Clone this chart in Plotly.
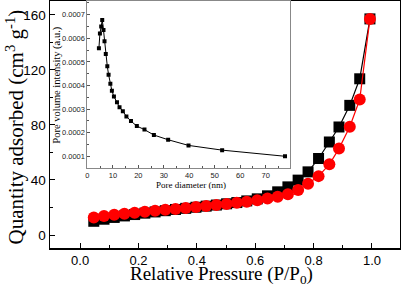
import plotly.graph_objects as go

# Main isotherm data
pressure = [0.047, 0.082, 0.117, 0.152, 0.187, 0.222, 0.257, 0.292, 0.327, 0.362,
            0.397, 0.432, 0.467, 0.502, 0.537, 0.571, 0.607, 0.642, 0.677, 0.712,
            0.747, 0.781, 0.817, 0.854, 0.887, 0.924, 0.958, 0.993]
adsorption = [10.0, 11.5, 12.8, 13.9, 14.9, 15.9, 16.8, 17.7, 18.6, 19.4,
              20.2, 21.0, 21.8, 22.7, 23.6, 24.8, 26.3, 28.5, 31.4, 35.0,
              39.9, 45.9, 55.6, 67.6, 78.5, 94.2, 113.5, 157.0]
desorption = [12.8, 13.8, 14.7, 15.5, 16.2, 16.9, 17.6, 18.3, 19.0, 19.7,
              20.4, 21.1, 21.8, 22.6, 23.4, 24.2, 25.3, 26.5, 27.8, 29.7,
              32.8, 37.2, 42.8, 51.4, 62.8, 78.7, 98.4, 157.0]

# Inset pore size distribution
pore_d = [4.5, 4.9, 5.4, 5.8, 6.3, 6.7, 7.2, 7.8, 8.3, 9.0, 9.6, 10.4, 11.6, 12.6,
          13.9, 15.3, 17.1, 19.4, 22.4, 26.1, 31.7, 39.7, 52.9, 77.6]
pore_v = [0.000558, 0.000620, 0.000650, 0.000678, 0.000635, 0.000587, 0.000533,
          0.000481, 0.000446, 0.000407, 0.000378, 0.000353, 0.000329, 0.000308,
          0.000291, 0.000269, 0.000249, 0.000228, 0.000213, 0.000190, 0.000170,
          0.000146, 0.000126, 0.000100]

x_ticks = [0.0, 0.2, 0.4, 0.6, 0.8, 1.0]
x_ticklabels = ["0.0", "0.2", "0.4", "0.6", "0.8", "1.0"]
y_ticks = [0, 40, 80, 120, 160]
inset_x_ticks = [0, 10, 20, 30, 40, 50, 60, 70, 80]
inset_y_ticks = [0.0001, 0.0002, 0.0003, 0.0004, 0.0005, 0.0006, 0.0007]
inset_y_labels = ["0.0001", "0.0002", "0.0003", "0.0004", "0.0005", "0.0006", "0.0007"]

SANS = "Liberation Sans, Arial, sans-serif"
SERIF = "Liberation Serif, Times New Roman, serif"

fig = go.Figure()
fig.add_trace(go.Scatter(x=pressure, y=adsorption, mode="lines+markers",
                         line=dict(color="black", width=1.2),
                         marker=dict(symbol="square", size=11, color="black"),
                         showlegend=False))
fig.add_trace(go.Scatter(x=pressure, y=desorption, mode="lines+markers",
                         line=dict(color="red", width=1.2),
                         marker=dict(symbol="circle", size=12, color="red"),
                         showlegend=False))
fig.add_trace(go.Scatter(x=pore_d, y=pore_v, mode="lines+markers",
                         xaxis="x2", yaxis="y2",
                         line=dict(color="black", width=1),
                         marker=dict(symbol="square", size=4, color="black"),
                         showlegend=False))

fig.update_layout(
    width=401, height=286,
    margin=dict(l=50, r=1, t=1, b=38),
    paper_bgcolor="white", plot_bgcolor="white",
    hovermode=False,
    xaxis=dict(range=[-0.103, 1.096], tickvals=x_ticks, ticktext=x_ticklabels,
               ticks="inside", ticklen=5, tickwidth=1, tickcolor="black",
               minor=dict(dtick=0.1, ticks="inside", ticklen=3, tickcolor="black"),
               showline=True, linecolor="black", linewidth=1.5, mirror=True,
               showgrid=False, zeroline=False, automargin=False,
               tickfont=dict(family=SANS, size=13, color="black")),
    yaxis=dict(range=[-9.4, 170.0], tickvals=y_ticks,
               ticks="inside", ticklen=5, tickwidth=1, tickcolor="black",
               minor=dict(dtick=20, ticks="inside", ticklen=3, tickcolor="black"),
               showline=True, linecolor="black", linewidth=1.5, mirror=True,
               showgrid=False, zeroline=False, automargin=False,
               tickfont=dict(family=SANS, size=13.5, color="black")),
    xaxis2=dict(domain=[0.107, 0.686], anchor="y2", range=[0, 79.6],
                tickvals=inset_x_ticks, ticks="inside", ticklen=3, tickcolor="#555",
                minor=dict(dtick=5, ticks="inside", ticklen=2, tickcolor="#555"),
                showline=True, linecolor="#888", linewidth=1, mirror=True,
                showgrid=False, zeroline=False,
                tickfont=dict(family=SANS, size=7.5, color="#222")),
    yaxis2=dict(domain=[0.323, 1.0], anchor="x2", range=[0.0000494, 0.000758],
                tickvals=inset_y_ticks, ticktext=inset_y_labels,
                ticks="inside", ticklen=3, tickcolor="#555",
                minor=dict(dtick=0.00005, ticks="inside", ticklen=2, tickcolor="#555"),
                showline=True, linecolor="#888", linewidth=1, mirror=True,
                showgrid=False, zeroline=False,
                tickfont=dict(family=SANS, size=7.5, color="#222")),
)

fig.add_annotation(text="Relative Pressure (P/P<sub>0</sub>)",
                   xref="paper", yref="paper",
                   x=(221 - 50) / 350, y=-(275 - 248) / 248,
                   xanchor="center", yanchor="middle", showarrow=False,
                   font=dict(family=SERIF, size=19, color="black"))
fig.add_annotation(text="Quantity adsorbed (cm<sup>3</sup> g<sup>-1</sup>)",
                   xref="paper", yref="paper",
                   x=(15 - 50) / 350, y=1 - 127 / 248, textangle=-90,
                   xanchor="center", yanchor="middle", showarrow=False,
                   font=dict(family=SERIF, size=21, color="black"))
fig.add_annotation(text="Pore diameter (nm)", xref="paper", yref="paper",
                   x=(191 - 50) / 350, y=1 - 185 / 248,
                   xanchor="center", yanchor="middle", showarrow=False,
                   font=dict(family=SERIF, size=9, color="black"))
fig.add_annotation(text="Pore volume intensity (a.u.)", xref="paper", yref="paper",
                   x=(57 - 50) / 350, y=1 - 85 / 248, textangle=-90,
                   xanchor="center", yanchor="middle", showarrow=False,
                   font=dict(family=SERIF, size=10.5, color="black"))

fig.write_html("out.html",
               config={"displayModeBar": False, "staticPlot": True},
               post_script="document.body.style.margin='0';document.body.style.overflow='hidden';")
